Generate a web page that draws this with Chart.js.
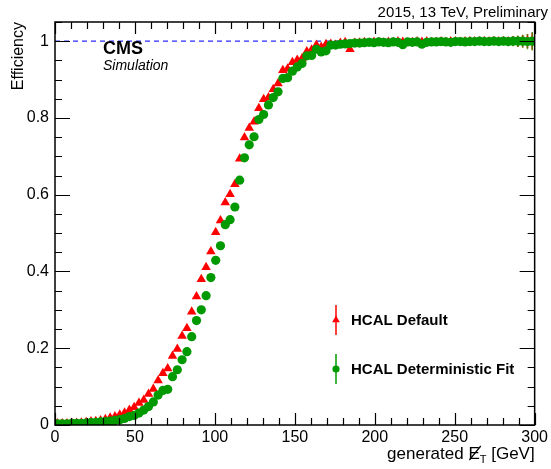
<!DOCTYPE html>
<html>
<head>
<meta charset="utf-8">
<script src="https://cdn.jsdelivr.net/npm/chart.js@4.4.1/dist/chart.umd.min.js"></script>
<style>
  html, body { margin: 0; padding: 0; background: #fff; }
  canvas { display: block; }
</style>
</head>
<body>
<canvas id="effChart" width="551" height="469"></canvas>
<script>
// bins of 3 GeV from 0 to 300
const binWidth = 3;
const binCenters = Array.from({ length: 100 }, (_, i) => binWidth / 2 + binWidth * i);

// HCAL Default (red triangles)
const effDefault = [
    0.004, 0.004, 0.004, 0.005, 0.005, 0.006, 0.007, 0.009, 0.010, 0.012,
    0.015, 0.019, 0.022, 0.027, 0.032, 0.039, 0.046, 0.057, 0.065, 0.081,
    0.094, 0.116, 0.135, 0.147, 0.180, 0.198, 0.232, 0.252, 0.295, 0.335,
    0.380, 0.411, 0.452, 0.502, 0.533, 0.580, 0.601, 0.627, 0.694, 0.749,
    0.774, 0.790, 0.825, 0.849, 0.853, 0.875, 0.890, 0.924, 0.928, 0.945,
    0.951, 0.955, 0.973, 0.978, 0.990, 0.985, 0.992, 0.993, 0.990, 0.995,
    0.997, 0.979, 0.995, 0.996, 0.997, 0.996, 0.998, 0.997, 0.996, 0.998,
    0.997, 0.999, 0.998, 0.996, 0.997, 0.999, 0.998, 0.999, 0.997, 0.998,
    0.999, 0.998, 0.999, 0.999, 0.998, 0.999, 1.000, 0.999, 0.999, 1.000,
    0.999, 1.000, 0.999, 1.000, 0.999, 1.000, 0.999, 1.000, 1.000, 1.000
];

// HCAL Deterministic Fit (green circles)
const effFit = [
    0.003, 0.003, 0.003, 0.004, 0.004, 0.004, 0.005, 0.006, 0.007, 0.008,
    0.009, 0.010, 0.012, 0.014, 0.017, 0.022, 0.025, 0.031, 0.039, 0.048,
    0.060, 0.078, 0.090, 0.093, 0.126, 0.144, 0.170, 0.191, 0.230, 0.272,
    0.300, 0.337, 0.384, 0.429, 0.467, 0.522, 0.535, 0.568, 0.638, 0.696,
    0.730, 0.751, 0.796, 0.809, 0.834, 0.853, 0.868, 0.903, 0.905, 0.922,
    0.933, 0.942, 0.962, 0.963, 0.979, 0.972, 0.975, 0.990, 0.990, 0.992,
    0.993, 0.994, 0.995, 0.995, 0.996, 0.997, 0.996, 0.998, 0.997, 0.996,
    0.998, 0.997, 0.991, 0.998, 0.997, 0.998, 0.992, 0.997, 0.998, 0.998,
    0.999, 0.998, 0.997, 0.999, 0.999, 0.998, 0.999, 0.999, 1.000, 0.999,
    0.999, 1.000, 0.999, 1.000, 0.999, 1.000, 1.000, 1.000, 0.999, 1.000
];

// statistical errors, only visible in the tail
const errDefault = [
    0, 0, 0, 0, 0, 0, 0, 0, 0, 0,
    0, 0, 0, 0, 0, 0, 0, 0, 0, 0,
    0, 0, 0, 0, 0, 0, 0, 0, 0, 0,
    0, 0, 0, 0, 0, 0, 0, 0, 0, 0,
    0, 0, 0, 0, 0, 0, 0, 0, 0, 0,
    0, 0, 0, 0, 0, 0, 0, 0, 0, 0,
    0, 0, 0, 0, 0, 0, 0, 0, 0, 0,
    0.002, 0.002, 0.002, 0.002, 0.002, 0.003, 0.003, 0.003, 0.003, 0.003,
    0.003, 0.003, 0.004, 0.004, 0.004, 0.005, 0.005, 0.006, 0.006, 0.007,
    0.007, 0.008, 0.009, 0.010, 0.011, 0.012, 0.014, 0.016, 0.018, 0.022
];
const errFit = [
    0, 0, 0, 0, 0, 0, 0, 0, 0, 0,
    0, 0, 0, 0, 0, 0, 0, 0, 0, 0,
    0, 0, 0, 0, 0, 0, 0, 0, 0, 0,
    0, 0, 0, 0, 0, 0, 0, 0, 0, 0,
    0, 0, 0, 0, 0, 0, 0, 0, 0, 0,
    0, 0, 0, 0, 0, 0, 0, 0, 0, 0,
    0, 0, 0, 0, 0, 0, 0, 0, 0, 0,
    0.002, 0.002, 0.002, 0.002, 0.002, 0.003, 0.003, 0.003, 0.003, 0.003,
    0.003, 0.003, 0.004, 0.004, 0.004, 0.005, 0.005, 0.006, 0.006, 0.007,
    0.008, 0.009, 0.010, 0.011, 0.012, 0.013, 0.015, 0.017, 0.020, 0.024
];

const xTicks = [0, 50, 100, 150, 200, 250, 300];
const xMinorStep = 10;
const yTicks = [0, 0.2, 0.4, 0.6, 0.8, 1.0];
const yTickLabels = ['0', '0.2', '0.4', '0.6', '0.8', '1'];
const yMinorStep = 0.05;

const RED = '#ff0000';
const GREEN = '#009900';
const FONT = '"Liberation Sans", Arial, Helvetica, sans-serif';

function toPoints(values) {
    return binCenters.map((x, i) => ({ x: x, y: values[i] }));
}

/**
 * Vertical error bars + dashed line at efficiency 1
 */
const underlayPlugin = {
    id: 'underlay',
    beforeDatasetsDraw(chart) {
        const { ctx, chartArea, scales } = chart;
        const xs = scales.x, ys = scales.y;

        // reference line at 1
        ctx.save();
        ctx.strokeStyle = '#2a2aff';
        ctx.lineWidth = 1.2;
        ctx.setLineDash([5, 4]);
        const y1 = ys.getPixelForValue(1);
        ctx.beginPath();
        ctx.moveTo(chartArea.left, y1);
        ctx.lineTo(chartArea.right, y1);
        ctx.stroke();
        ctx.restore();

        // error bars
        const bars = [
            { values: effDefault, errs: errDefault, color: RED },
            { values: effFit, errs: errFit, color: 'rgba(70,130,0,0.85)' }
        ];
        ctx.save();
        ctx.lineWidth = 1.5;
        bars.forEach(set => {
            ctx.strokeStyle = set.color;
            set.values.forEach((v, i) => {
                const e = set.errs[i];
                if (!e) return;
                const px = xs.getPixelForValue(binCenters[i]);
                ctx.beginPath();
                ctx.moveTo(px, ys.getPixelForValue(v - e));
                ctx.lineTo(px, ys.getPixelForValue(v + e));
                ctx.stroke();
            });
        });
        ctx.restore();
    }
};

/**
 * ROOT style frame with inward ticks, texts and legend
 */
const framePlugin = {
    id: 'frame',
    afterDraw(chart) {
        const { ctx, chartArea, scales } = chart;
        const { left, right, top, bottom } = chartArea;
        const xs = scales.x, ys = scales.y;

        ctx.save();
        ctx.strokeStyle = '#000';
        ctx.lineWidth = 1.5;
        ctx.strokeRect(left, top, right - left, bottom - top);

        // x ticks (bottom and top)
        ctx.beginPath();
        for (let v = xs.min; v <= xs.max + 1e-6; v += xMinorStep) {
            const px = Math.round(xs.getPixelForValue(v)) + 0.5;
            const len = xTicks.includes(v) ? 12 : 7;
            ctx.moveTo(px, bottom);
            ctx.lineTo(px, bottom - len);
            ctx.moveTo(px, top);
            ctx.lineTo(px, top + len);
        }
        // y ticks (left and right)
        for (let i = 0; i * yMinorStep <= ys.max + 1e-6; i++) {
            const v = i * yMinorStep;
            const py = Math.round(ys.getPixelForValue(v)) + 0.5;
            const major = i % 4 === 0;
            const len = major ? 15 : 7;
            ctx.moveTo(left, py);
            ctx.lineTo(left + len, py);
            ctx.moveTo(right, py);
            ctx.lineTo(right - len, py);
        }
        ctx.lineWidth = 1.2;
        ctx.stroke();

        // header text
        ctx.fillStyle = '#000';
        ctx.font = '15px ' + FONT;
        ctx.textAlign = 'right';
        ctx.textBaseline = 'alphabetic';
        ctx.fillText('2015, 13 TeV, Preliminary', 548, 17);

        ctx.textAlign = 'left';
        ctx.font = 'bold 18px ' + FONT;
        ctx.fillText('CMS', 103, 54);
        ctx.font = 'italic 14px ' + FONT;
        ctx.fillText('Simulation', 103, 70);

        // x axis title: generated E-slash_T [GeV]
        const partA = 'generated ';
        const partE = 'E';
        const partT = 'T';
        const partB = ' [GeV]';
        const mainFont = '17px ' + FONT;
        const subFont = '11px ' + FONT;
        ctx.font = mainFont;
        const wA = ctx.measureText(partA).width;
        const wE = ctx.measureText(partE).width;
        const wB = ctx.measureText(partB).width;
        ctx.font = subFont;
        const wT = ctx.measureText(partT).width;
        const baseY = 459;
        let cx = right - (wA + wE + wT + wB);
        ctx.font = mainFont;
        ctx.fillText(partA, cx, baseY);
        cx += wA;
        ctx.fillText(partE, cx, baseY);
        ctx.beginPath();
        ctx.lineWidth = 1.2;
        ctx.moveTo(cx + 1, baseY + 1);
        ctx.lineTo(cx + wE + 1, baseY - 13);
        ctx.stroke();
        cx += wE;
        ctx.font = subFont;
        ctx.fillText(partT, cx, baseY + 4);
        cx += wT;
        ctx.font = mainFont;
        ctx.fillText(partB, cx, baseY);

        // legend
        const items = [
            { ds: chart.data.datasets[0], y: 320 },
            { ds: chart.data.datasets[1], y: 369 }
        ];
        items.forEach(item => {
            const mx = 336;
            ctx.strokeStyle = item.ds.borderColor;
            ctx.fillStyle = item.ds.backgroundColor;
            ctx.lineWidth = 1.5;
            ctx.beginPath();
            ctx.moveTo(mx, item.y - 15);
            ctx.lineTo(mx, item.y + 15);
            ctx.stroke();
            Chart.helpers.drawPoint(ctx, {
                pointStyle: item.ds.pointStyle,
                radius: item.ds.pointRadius - 1,
                borderWidth: 0
            }, mx, item.y);
            ctx.fillStyle = '#000';
            ctx.font = 'bold 15px ' + FONT;
            ctx.textAlign = 'left';
            ctx.textBaseline = 'middle';
            ctx.fillText(item.ds.label, 351, item.y + 1);
        });
        ctx.restore();
    }
};

const chart = new Chart(document.getElementById('effChart'), {
    type: 'scatter',
    data: {
        datasets: [
            {
                label: 'HCAL Default',
                data: toPoints(effDefault),
                pointStyle: 'triangle',
                pointRadius: 5.5,
                backgroundColor: RED,
                borderColor: RED,
                borderWidth: 0,
                order: 2
            },
            {
                label: 'HCAL Deterministic Fit',
                data: toPoints(effFit),
                pointStyle: 'circle',
                pointRadius: 4.6,
                backgroundColor: GREEN,
                borderColor: GREEN,
                borderWidth: 0,
                order: 1
            }
        ]
    },
    options: {
        responsive: false,
        animation: false,
        devicePixelRatio: 1,
        layout: { padding: { top: 22, right: 14, left: 0, bottom: 0 } },
        plugins: {
            legend: { display: false },
            tooltip: { enabled: false }
        },
        scales: {
            x: {
                type: 'linear',
                min: 0,
                max: 300,
                grid: { display: false, drawTicks: false },
                border: { display: false },
                afterBuildTicks: scale => { scale.ticks = xTicks.map(v => ({ value: v })); },
                afterFit: scale => { scale.height = 44; },
                ticks: {
                    color: '#000',
                    font: { family: FONT, size: 16 },
                    padding: 3,
                    maxRotation: 0,
                    autoSkip: false
                }
            },
            y: {
                min: 0,
                max: 1.05,
                grid: { display: false, drawTicks: false },
                border: { display: false },
                afterBuildTicks: scale => { scale.ticks = yTicks.map(v => ({ value: v })); },
                afterFit: scale => { scale.width = 55; },
                ticks: {
                    color: '#000',
                    font: { family: FONT, size: 16 },
                    padding: 6,
                    autoSkip: false,
                    callback: (value, index) => yTickLabels[index]
                },
                title: {
                    display: true,
                    text: 'Efficiency',
                    align: 'end',
                    color: '#000',
                    font: { family: FONT, size: 16 },
                    padding: { top: 9, bottom: 0 }
                }
            }
        }
    },
    plugins: [underlayPlugin, framePlugin]
});
</script>
</body>
</html>
